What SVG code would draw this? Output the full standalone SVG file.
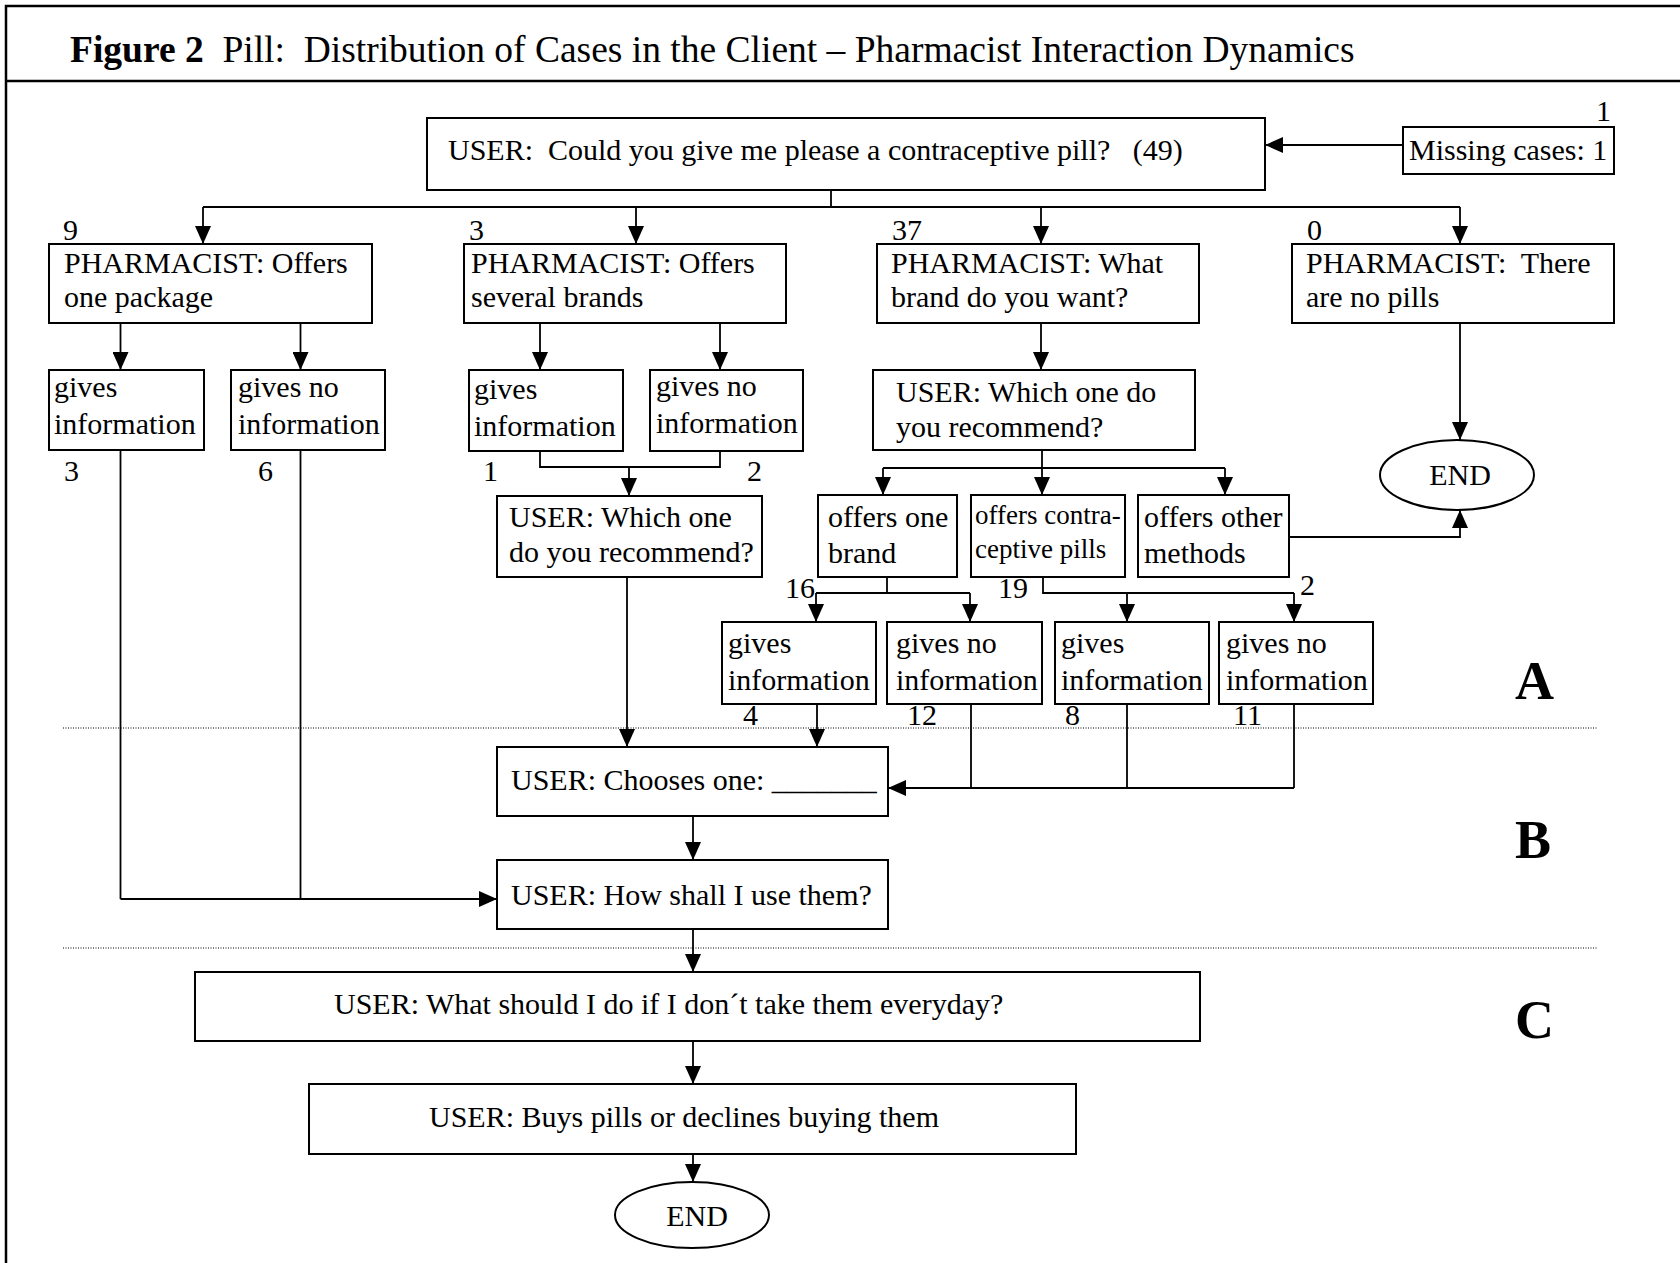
<svg xmlns="http://www.w3.org/2000/svg" width="1680" height="1263" viewBox="0 0 1680 1263">
<style>
text{font-family:"Liberation Serif","Times New Roman",serif;font-size:30px;fill:#000}
.t{font-size:37.5px}
.b{font-weight:bold}
.sec{font-size:54px;font-weight:bold}
.sm{font-size:27px}
.box{fill:#fff;stroke:#000;stroke-width:2}
.ln{fill:none;stroke:#000;stroke-width:1.8}
.ar{fill:none;stroke:#000;stroke-width:1.8;marker-end:url(#ah)}
.dot{stroke:#555;stroke-width:1.5;stroke-dasharray:1 1.5}
.frame{stroke:#000;stroke-width:2.5;fill:none}
.mid{text-anchor:middle}
</style>
<defs>
<marker id="ah" markerUnits="userSpaceOnUse" markerWidth="18" markerHeight="16" refX="18" refY="8" orient="auto">
<path d="M0,0 L18,8 L0,16 z" fill="#000"/>
</marker>
</defs>
<rect width="1680" height="1263" fill="#fff"/>
<g id="frame">
<path class="frame" d="M6,1263 V6 H1680 M6,81 H1680"/>
<text x="70" y="62" class="t" xml:space="preserve"><tspan class="b">Figure 2</tspan>  Pill:  Distribution of Cases in the Client – Pharmacist Interaction Dynamics</text>
</g>
<g id="dividers">
<line class="dot" x1="63" y1="728" x2="1598" y2="728"/>
<line class="dot" x1="63" y1="948" x2="1598" y2="948"/>
<text x="1515" y="699" class="sec">A</text>
<text x="1515" y="858" class="sec">B</text>
<text x="1515" y="1038" class="sec">C</text>
</g>
<g id="connectors">
<path class="ar" d="M1403,145 H1265"/>
<path class="ln" d="M831,190 V207 M203,207 H1460"/>
<path class="ar" d="M203,207 V244"/>
<path class="ar" d="M636,207 V244"/>
<path class="ar" d="M1041,207 V244"/>
<path class="ar" d="M1460,207 V244"/>
<path class="ar" d="M120.5,323 V370"/>
<path class="ar" d="M300.5,323 V370"/>
<path class="ar" d="M540,323 V370"/>
<path class="ar" d="M720,323 V370"/>
<path class="ar" d="M1041,323 V370"/>
<path class="ar" d="M1460,323 V440"/>
<path class="ln" d="M540,451 V467 H720 V451"/>
<path class="ar" d="M629,467 V496"/>
<path class="ln" d="M1042,450 V468 M883,468 H1225"/>
<path class="ar" d="M883,468 V495"/>
<path class="ar" d="M1042,468 V495"/>
<path class="ar" d="M1225,468 V495"/>
<path class="ar" d="M1289,537 H1460 V510"/>
<path class="ln" d="M887,577 V593 M816,593 H970"/>
<path class="ar" d="M816,593 V622"/>
<path class="ar" d="M970,593 V622"/>
<path class="ln" d="M1043,577 V593 H1294"/>
<path class="ar" d="M1127,593 V622"/>
<path class="ar" d="M1294,593 V622"/>
<path class="ar" d="M627,577 V747"/>
<path class="ar" d="M817,704 V747"/>
<path class="ln" d="M971,704 V788 M1127,704 V788 M1294,704 V788"/>
<path class="ar" d="M1294,788 H888"/>
<path class="ar" d="M693,816 V860"/>
<path class="ln" d="M120.5,450 V899 M300.5,450 V899"/>
<path class="ar" d="M120.5,899 H497"/>
<path class="ar" d="M693,929 V972"/>
<path class="ar" d="M693,1041 V1084"/>
<path class="ar" d="M693,1154 V1182"/>
</g>
<g id="n-main"><rect class="box" x="427" y="118" width="838" height="72"/><text x="448" y="160" xml:space="preserve">USER:  Could you give me please a contraceptive pill?   (49)</text></g>
<g id="n-missing"><rect class="box" x="1403" y="127" width="211" height="47"/><text x="1409" y="160">Missing cases: 1</text><text x="1596" y="121">1</text></g>
<g id="n-p1"><rect class="box" x="49" y="244" width="323" height="79"/><text x="64" y="273">PHARMACIST: Offers</text><text x="64" y="307">one package</text><text x="63" y="240">9</text></g>
<g id="n-p2"><rect class="box" x="464" y="244" width="322" height="79"/><text x="471" y="273">PHARMACIST: Offers</text><text x="471" y="307">several brands</text><text x="469" y="240">3</text></g>
<g id="n-p3"><rect class="box" x="877" y="244" width="322" height="79"/><text x="891" y="273">PHARMACIST: What</text><text x="891" y="307">brand do you want?</text><text x="892" y="240">37</text></g>
<g id="n-p4"><rect class="box" x="1292" y="244" width="322" height="79"/><text x="1306" y="273" xml:space="preserve">PHARMACIST:  There</text><text x="1306" y="307">are no pills</text><text x="1307" y="240">0</text></g>
<g id="n-g1"><rect class="box" x="49" y="370" width="155" height="80"/><text x="54" y="397">gives</text><text x="54" y="434">information</text><text x="64" y="481">3</text></g>
<g id="n-g2"><rect class="box" x="231" y="370" width="154" height="80"/><text x="238" y="397">gives no</text><text x="238" y="434">information</text><text x="258" y="481">6</text></g>
<g id="n-g3"><rect class="box" x="469" y="370" width="154" height="81"/><text x="474" y="399">gives</text><text x="474" y="436">information</text><text x="483" y="481">1</text></g>
<g id="n-g4"><rect class="box" x="650" y="370" width="153" height="81"/><text x="656" y="396">gives no</text><text x="656" y="433">information</text><text x="747" y="481">2</text></g>
<g id="n-w1"><rect class="box" x="497" y="496" width="265" height="81"/><text x="509" y="527">USER: Which one</text><text x="509" y="562">do you recommend?</text></g>
<g id="n-w2"><rect class="box" x="873" y="370" width="322" height="80"/><text x="896" y="402">USER: Which one do</text><text x="896" y="437">you recommend?</text></g>
<g id="n-o1"><rect class="box" x="818" y="495" width="139" height="82"/><text x="828" y="527">offers one</text><text x="828" y="563">brand</text><text x="785" y="598">16</text></g>
<g id="n-o2"><rect class="box" x="971" y="495" width="154" height="82"/><text x="975" y="524" class="sm">offers contra-</text><text x="975" y="558" class="sm">ceptive pills</text><text x="998" y="598">19</text></g>
<g id="n-o3"><rect class="box" x="1138" y="495" width="151" height="82"/><text x="1144" y="527">offers other</text><text x="1144" y="563">methods</text><text x="1300" y="595">2</text></g>
<g id="n-end1"><ellipse class="box" cx="1457" cy="475" rx="77" ry="35"/><text x="1460" y="485" class="mid">END</text></g>
<g id="n-g5"><rect class="box" x="722" y="622" width="154" height="82"/><text x="728" y="653">gives</text><text x="728" y="690">information</text><text x="743" y="725">4</text></g>
<g id="n-g6"><rect class="box" x="887" y="622" width="155" height="82"/><text x="896" y="653">gives no</text><text x="896" y="690">information</text><text x="907" y="725">12</text></g>
<g id="n-g7"><rect class="box" x="1055" y="622" width="154" height="82"/><text x="1061" y="653">gives</text><text x="1061" y="690">information</text><text x="1065" y="725">8</text></g>
<g id="n-g8"><rect class="box" x="1219" y="622" width="154" height="82"/><text x="1226" y="653">gives no</text><text x="1226" y="690">information</text><text x="1233" y="725">11</text></g>
<g id="n-choose"><rect class="box" x="497" y="747" width="391" height="69"/><text x="511" y="790">USER: Chooses one: _______</text></g>
<g id="n-how"><rect class="box" x="497" y="860" width="391" height="69"/><text x="511" y="905">USER: How shall I use them?</text></g>
<g id="n-what"><rect class="box" x="195" y="972" width="1005" height="69"/><text x="334" y="1014">USER: What should I do if I don´t take them everyday?</text></g>
<g id="n-buys"><rect class="box" x="309" y="1084" width="767" height="70"/><text x="429" y="1127">USER: Buys pills or declines buying them</text></g>
<g id="n-end2"><ellipse class="box" cx="692" cy="1215" rx="77" ry="33"/><text x="697" y="1226" class="mid">END</text></g>
</svg>
